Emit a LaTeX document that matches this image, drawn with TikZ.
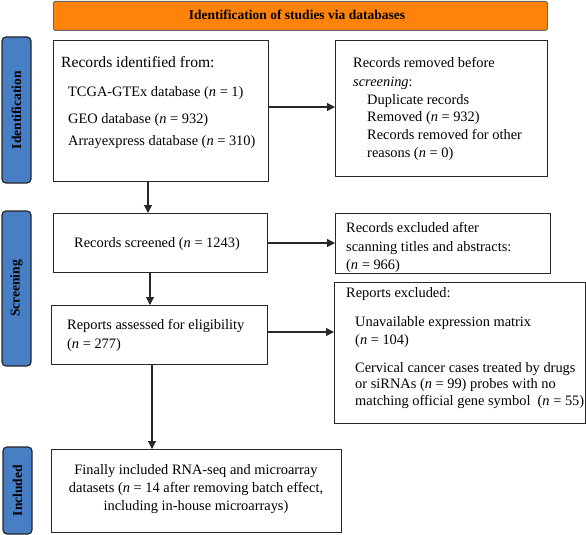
\documentclass[tikz,border=0pt]{standalone}
\usepackage{fontspec}
\setmainfont{Liberation Serif}
\usetikzlibrary{arrows.meta}
\definecolor{hdrorange}{RGB}{255,130,10}
\definecolor{sideblue}{RGB}{72,126,196}
\definecolor{lineg}{RGB}{40,40,40}
\newcommand{\nnum}{\textit{n}}
\tikzset{
  box/.style={draw=lineg, line width=1.1pt, fill=white, inner sep=0pt, anchor=north west},
  side/.style={draw=black!85, line width=1.2pt, fill=sideblue, rounded corners=4pt, rotate=90,
     inner sep=0pt, font=\fontsize{13.5}{16}\selectfont\bfseries, text=black},
  hdr/.style={draw=black!60, line width=0.8pt, fill=hdrorange, rounded corners=1.5pt, inner sep=0pt,
     anchor=north west, minimum width=494pt, minimum height=29pt},
  txt/.style={inner sep=0pt, anchor=base west, font=\fontsize{14.4}{17}\selectfont},
  ctxt/.style={inner sep=0pt, anchor=base, font=\fontsize{14.4}{17}\selectfont},
  arr/.style={draw=lineg, line width=1.1pt, -{Triangle[length=8pt,width=8pt]}}
}
\begin{document}
\begin{tikzpicture}[x=1pt,y=-1pt]
\useasboundingbox (0,0) rectangle (586,535);
% header
\node[hdr] (hdr) at (53,1) {};
\node[inner sep=0pt, anchor=base, font=\fontsize{13.5}{16}\selectfont\bfseries] (hdrt) at (297,19.5) {Identification of studies via databases};
% side labels
\node[side, minimum width=146pt, minimum height=29pt] (sid) at (16.5,110) {Identification};
\node[side, minimum width=155pt, minimum height=29pt] (ssc) at (16.5,288.5) {Screening};
\node[side, minimum width=87pt, minimum height=29pt] (sin) at (17.5,490.5) {Included};
% boxes
\node[box, minimum width=215pt, minimum height=141pt] (idb) at (53,40) {};
\node[box, minimum width=212pt, minimum height=136pt] (rem) at (335,40) {};
\node[box, minimum width=214pt, minimum height=59pt] (scr) at (53,213) {};
\node[box, minimum width=215pt, minimum height=60pt] (exc) at (335,213) {};
\node[box, minimum width=216pt, minimum height=59pt] (rep) at (51,305) {};
\node[box, minimum width=251pt, minimum height=141pt] (rex) at (334,282) {};
\node[box, minimum width=290pt, minimum height=83pt] (fin) at (51,449) {};
% texts box 1
\node[txt, font=\fontsize{15.6}{18}\selectfont] (t1a) at (61,67) {Records identified from:};
\node[txt] (t1b) at (68,96) {TCGA-GTEx database (\nnum{} = 1)};
\node[txt] (t1c) at (68,123) {GEO database (\nnum{} = 932)};
\node[txt] (t1d) at (68,145) {Arrayexpress database (\nnum{} = 310)};
% removed
\node[txt] (t2a) at (353,67) {Records removed before};
\node[txt] (t2b) at (353,86) {\textit{screening}:};
\node[txt] (t2c) at (367,104) {Duplicate records};
\node[txt] (t2d) at (367,121) {Removed (\nnum{} = 932)};
\node[txt] (t2e) at (367,139) {Records removed for other};
\node[txt] (t2f) at (367,157) {reasons (\nnum{} = 0)};
% screened
\node[ctxt] (t3a) at (157,247) {Records screened (\nnum{} = 1243)};
% excluded
\node[txt] (t4a) at (346,232) {Records excluded after};
\node[txt] (t4b) at (346,251) {scanning titles and abstracts:};
\node[txt] (t4c) at (346,269) {(\nnum{} = 966)};
% reports
\node[txt] (t5a) at (67,329) {Reports assessed for eligibility};
\node[txt] (t5b) at (67,348) {(\nnum{} = 277)};
% reports excluded
\node[txt] (t6a) at (346,297) {Reports excluded:};
\node[txt] (t6b) at (355,326) {Unavailable expression matrix};
\node[txt] (t6c) at (355,344) {(\nnum{} = 104)};
\node[txt] (t6d) at (355,372) {Cervical cancer cases treated by drugs};
\node[txt] (t6e) at (355,388) {or siRNAs (\nnum{} = 99) probes with no};
\node[txt] (t6f) at (355,405) {matching official gene symbol\ \ (\nnum{} = 55)};
% final
\node[ctxt] (t7a) at (196,474) {Finally included RNA-seq and microarray};
\node[ctxt] (t7b) at (196,492) {datasets (\nnum{} = 14 after removing batch effect,};
\node[ctxt] (t7c) at (196,510) {including in-house microarrays)};
% connector end points
\coordinate (c1) at (148,181);
\coordinate (c2) at (150,272);
\coordinate (c3) at (152,364);
\coordinate (r1) at (268,107);
\coordinate (r2) at (267,243);
\coordinate (r3) at (267,332);
% connectors
\draw[arr] (r1) -- (rem.west |- r1);
\draw[arr] (c1) -- (scr.north -| c1);
\draw[arr] (r2) -- (exc.west |- r2);
\draw[arr] (c2) -- (rep.north -| c2);
\draw[arr] (r3) -- (rex.west |- r3);
\draw[arr] (c3) -- (fin.north -| c3);
\end{tikzpicture}
\end{document}
